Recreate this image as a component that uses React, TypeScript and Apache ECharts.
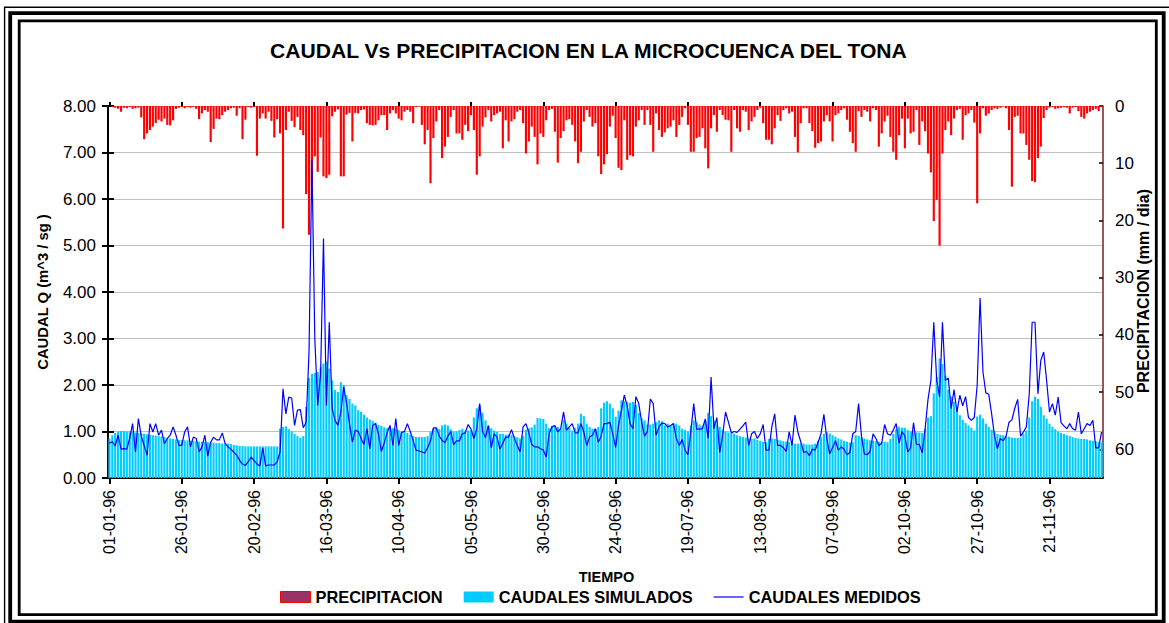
import React, { useEffect, useRef } from 'react';
import * as echarts from 'echarts';

// ---------- DATA ----------
const DAY_COUNT = 344; // 01-01-96 .. 09-12-96
const categories: string[] = [];
for (let i = 0; i < DAY_COUNT; i++) {
  const d = new Date(Date.UTC(1996, 0, 1 + i));
  const dd = String(d.getUTCDate()).padStart(2, '0');
  const mm = String(d.getUTCMonth() + 1).padStart(2, '0');
  categories.push(`${dd}-${mm}-96`);
}

const tickLabels = [
  '01-01-96', '26-01-96', '20-02-96', '16-03-96', '10-04-96', '05-05-96', '30-05-96',
  '24-06-96', '19-07-96', '13-08-96', '07-09-96', '02-10-96', '27-10-96', '21-11-96',
];

// mm / dia
const precipitacion = [
  0, 0.2, 0.3, 0.5, 1.0, 0.3, 0.4, 0.2, 0.5, 0.4,
  0.3, 2.0, 5.8, 4.8, 4.2, 3.6, 3.0, 2.4, 2.7, 2.2,
  3.3, 3.4, 2.5, 0.5, 0.3, 0.2, 0.4, 0.2, 0.3, 0.2,
  0.5, 2.3, 1.3, 0.7, 1.0, 6.3, 4.0, 2.2, 2.3, 1.6,
  1.0, 0.7, 0.4, 0.3, 1.7, 0.4, 5.8, 2.4, 0.2, 0.3,
  0.2, 8.7, 2.2, 1.3, 2.2, 1.0, 2.6, 5.5, 2.3, 4.8,
  21.4, 4.2, 1.0, 2.6, 3.7, 1.9, 4.2, 5.1, 15.4, 22.5,
  13.8, 8.8, 11.5, 5.5, 12.3, 12.6, 12.0, 1.8, 1.0, 0.6,
  12.3, 12.3, 1.5, 1.2, 6.2, 1.2, 1.3, 0.7, 0.6, 3.0,
  3.3, 3.4, 3.3, 2.5, 1.6, 1.6, 4.2, 1.3, 0.7, 1.3,
  2.2, 2.5, 1.0, 0.7, 1.0, 3.0, 0.2, 0.1, 3.3, 6.7,
  4.2, 13.5, 5.6, 2.7, 0.7, 9.1, 7.1, 5.4, 1.9, 0.7,
  4.8, 4.8, 5.9, 3.3, 4.4, 1.6, 4.2, 12.0, 8.8, 3.6,
  2.0, 0.7, 2.7, 1.6, 1.3, 1.0, 7.4, 2.5, 6.2, 2.7,
  2.3, 1.0, 0.7, 3.0, 8.3, 6.2, 3.6, 5.4, 10.2, 4.8,
  5.4, 2.5, 0.7, 0.5, 4.5, 9.9, 5.6, 4.4, 2.5, 2.3,
  3.3, 6.2, 10.0, 8.0, 2.7, 0.7, 1.9, 3.6, 3.0, 8.8,
  11.9, 10.2, 8.4, 3.6, 1.7, 5.6, 10.8, 11.2, 2.5, 9.4,
  8.6, 8.8, 3.6, 2.5, 0.7, 3.3, 0.7, 3.3, 8.0, 1.3,
  4.2, 5.4, 4.6, 3.9, 3.6, 2.5, 5.4, 3.3, 1.9, 0.4,
  3.3, 8.0, 8.0, 5.6, 5.4, 3.9, 7.4, 10.9, 3.9, 1.6,
  4.5, 0.7, 1.6, 2.4, 2.5, 8.0, 0.7, 3.9, 4.5, 0.7,
  1.0, 4.2, 2.7, 1.9, 0.7, 0.3, 3.0, 5.9, 5.9, 6.7,
  3.9, 1.6, 2.6, 0.7, 0.4, 1.3, 1.0, 5.4, 8.1, 3.0,
  0.4, 0.4, 3.0, 4.4, 7.3, 6.5, 6.2, 2.7, 1.6, 2.7,
  6.2, 1.6, 1.3, 0.7, 0.4, 2.4, 4.5, 6.5, 8.0, 0.9,
  1.9, 0.7, 1.0, 2.7, 0.4, 0.7, 7.1, 4.8, 2.7, 1.7,
  5.4, 8.0, 9.4, 5.1, 2.2, 7.4, 2.2, 4.8, 4.5, 0.7,
  6.8, 2.7, 4.4, 8.3, 11.6, 20.1, 16.4, 24.4, 8.3, 4.2,
  2.7, 5.1, 2.2, 0.7, 0.5, 5.9, 1.6, 1.3, 0.7, 2.9,
  17.0, 4.8, 0.4, 1.7, 1.3, 0.7, 0.4, 0.5, 0.3, 0.1,
  0.4, 4.2, 14.1, 1.9, 1.7, 4.8, 4.8, 6.8, 9.4, 13.1,
  13.3, 9.1, 7.1, 2.1, 0.7, 0.3, 0.2, 0.5, 0.4, 0.3,
  0.2, 0.3, 1.3, 0.3, 0.2, 0.9, 1.9, 2.2, 1.3, 1.0,
  0.7, 0.5, 0.9, 0.2,
];

// m^3 / sg
const caudalesSimulados = [
  0.85, 0.92, 0.97, 1.0, 1.01, 1.01, 1.0, 1.0, 0.99, 0.98,
  0.97, 0.96, 0.95, 0.94, 0.93, 0.92, 0.91, 0.9, 0.89, 0.88,
  0.86, 0.85, 0.84, 0.83, 0.82, 0.82, 0.81, 0.81, 0.8, 0.8,
  0.79, 0.78, 0.78, 0.77, 0.77, 0.76, 0.76, 0.75, 0.75, 0.74,
  0.74, 0.74, 0.73, 0.71, 0.7, 0.69, 0.69, 0.68, 0.68, 0.68,
  0.68, 0.68, 0.68, 0.68, 0.68, 0.68, 0.68, 0.68, 0.68, 1.06,
  1.1, 1.11, 1.05, 1.0, 0.95, 0.9, 0.86, 0.9, 1.53, 2.15,
  2.24, 2.26, 2.28, 2.38, 2.46, 2.5, 2.35, 2.1, 1.89, 1.85,
  2.06, 2.0, 1.78, 1.7, 1.6, 1.56, 1.46, 1.42, 1.36, 1.3,
  1.26, 1.23, 1.19, 1.14, 1.12, 1.09, 1.07, 1.08, 1.07, 1.05,
  1.03, 1.0, 1.0, 0.97, 0.93, 0.9, 0.88, 0.88, 0.88, 0.88,
  0.9, 1.0, 1.06, 1.08, 1.05, 1.13, 1.15, 1.13, 1.05, 1.0,
  1.0, 1.03, 1.06, 1.02, 1.02, 1.03, 1.3, 1.5, 1.56, 1.4,
  1.24, 1.12, 1.07, 1.02, 0.99, 0.95, 0.95, 0.93, 0.94, 0.92,
  0.9, 0.88, 0.85, 0.9, 1.04, 1.07, 1.09, 1.15, 1.29, 1.28,
  1.27, 1.17, 1.07, 1.12, 1.12, 1.1, 1.06, 1.24, 1.17, 1.08,
  1.02, 1.08, 1.17, 1.38, 1.33, 1.17, 1.1, 1.06, 1.06, 1.1,
  1.5, 1.62, 1.65, 1.6, 1.5, 1.32, 1.45, 1.67, 1.65, 1.63,
  1.62, 1.64, 1.57, 1.4, 1.28, 1.24, 1.15, 1.15, 1.17, 1.2,
  1.24, 1.22, 1.13, 1.17, 1.13, 1.17, 1.17, 1.13, 1.06, 1.03,
  1.0, 1.13, 1.24, 1.2, 1.15, 1.13, 1.24, 1.4, 1.33, 1.24,
  1.15, 1.1, 1.04, 1.0, 0.98, 0.97, 0.95, 0.92, 0.9, 0.88,
  0.87, 0.85, 0.84, 0.85, 0.82, 0.8, 0.78, 0.77, 0.84, 0.85,
  0.84, 0.82, 0.81, 0.79, 0.78, 0.77, 0.75, 0.74, 0.74, 0.74,
  0.74, 0.72, 0.72, 0.72, 0.74, 0.8, 0.88, 0.95, 0.99, 0.96,
  0.92, 0.89, 0.85, 0.83, 0.8, 0.78, 0.76, 0.77, 0.92, 0.91,
  0.88, 0.85, 0.83, 0.81, 0.8, 0.79, 0.78, 0.78, 0.78, 0.77,
  0.84, 0.95, 1.05, 1.1, 1.08, 1.08, 1.03, 1.0, 0.98, 0.98,
  0.98, 0.97, 1.06, 1.3, 1.33, 1.82, 2.17, 2.57, 2.45, 2.2,
  1.9, 1.75, 1.64, 1.5, 1.35, 1.25, 1.18, 1.13, 1.08, 1.02,
  1.32, 1.36, 1.28, 1.17, 1.1, 1.04, 1.0, 0.95, 0.93, 0.92,
  0.9, 0.89, 0.87, 0.86, 0.86, 0.87, 0.95, 1.02, 1.3, 1.65,
  1.75, 1.7, 1.53, 1.35, 1.27, 1.17, 1.1, 1.05, 1.0, 0.97,
  0.95, 0.92, 0.9, 0.88, 0.86, 0.85, 0.84, 0.84, 0.83, 0.81,
  0.8, 0.79, 0.78, 0.77,
];

// m^3 / sg
const caudalesMedidos = [
  0.75, 0.78, 0.69, 0.92, 0.62, 0.63, 0.62, 0.85, 1.17, 0.56,
  1.28, 0.9, 0.7, 0.49, 1.17, 0.99, 1.17, 0.92, 1.03, 0.74,
  0.85, 0.92, 1.1, 0.92, 0.7, 0.7, 0.99, 1.1, 0.67, 0.88,
  0.85, 0.56, 0.67, 0.92, 0.47, 0.77, 0.88, 0.82, 0.82, 0.97,
  0.74, 0.67, 0.62, 0.55, 0.49, 0.38, 0.3, 0.27, 0.35, 0.45,
  0.38, 0.3, 0.26, 0.65, 0.26, 0.28, 0.28, 0.28, 0.35, 0.56,
  1.92, 1.38, 1.74, 1.72, 1.13, 1.46, 1.47, 1.08, 1.2, 2.71,
  6.83, 3.0, 1.56, 2.24, 5.15, 1.56, 3.35, 1.49, 1.24, 1.13,
  1.42, 1.96, 1.6, 1.17, 0.77, 1.03, 1.0, 0.85, 0.72, 1.06,
  0.63, 1.13, 1.17, 0.95, 0.57, 0.75, 0.98, 1.13, 0.7, 1.28,
  0.7, 0.98, 1.0, 1.17, 1.0, 0.8, 0.6, 0.58, 0.56, 0.54,
  0.65, 0.8, 1.08, 1.08, 0.9, 0.81, 0.76, 0.9, 1.0, 0.72,
  0.8, 0.8, 0.95, 0.97, 1.15, 1.05, 0.85, 1.06, 1.6, 1.0,
  0.87, 1.13, 0.65, 0.95, 0.88, 0.62, 0.75, 0.88, 0.88, 1.04,
  0.85, 0.7, 0.56, 1.1, 1.17, 0.97, 0.72, 0.67, 0.67, 0.63,
  0.6, 0.45, 0.95, 1.1, 1.13, 0.99, 1.06, 1.42, 1.03, 1.1,
  1.17, 0.97, 0.97, 1.17, 0.99, 0.7, 0.88, 0.92, 1.06, 0.77,
  0.9, 1.17, 1.17, 1.2, 0.95, 0.66, 1.13, 1.45, 1.78, 1.55,
  1.17, 1.06, 1.75, 1.6, 1.2, 0.9, 1.0, 1.7, 1.6, 0.92,
  1.1, 1.18, 1.17, 1.1, 1.13, 1.17, 0.85, 0.7, 0.83, 0.6,
  0.5, 1.0, 1.6, 1.05, 1.05, 1.06, 1.27, 0.85, 2.17, 1.06,
  1.3, 0.55, 0.92, 1.42, 1.2, 0.97, 1.0, 0.98, 1.05, 1.12,
  1.2, 0.7, 0.95, 1.0, 0.85, 0.95, 1.15, 0.6, 0.6, 1.1,
  1.38, 0.7, 0.7, 0.65, 0.57, 1.0, 0.7, 1.35, 0.99, 0.78,
  0.55, 0.57, 0.48, 0.62, 0.6, 0.77, 0.95, 1.37, 0.85, 0.52,
  0.65, 0.8, 0.6, 0.67, 0.62, 0.5, 0.55, 0.95, 1.0, 1.6,
  0.9, 0.52, 0.5, 0.57, 0.95, 0.85, 0.7, 0.75, 1.15, 0.95,
  0.92, 1.03, 1.17, 0.75, 1.0, 0.9, 0.56, 0.65, 1.19, 0.72,
  0.72, 0.54, 1.06, 1.69, 2.1, 3.35, 2.1, 1.75, 3.35, 2.1,
  2.15, 1.49, 1.9, 1.42, 1.78, 1.55, 1.75, 1.3, 1.24, 1.3,
  2.0, 3.87, 2.28, 1.83, 1.8, 1.38, 0.9, 0.63, 0.85, 0.8,
  0.9, 1.2, 1.25, 1.5, 1.69, 0.9, 0.99, 1.1, 1.8, 3.35,
  3.35, 1.81, 2.53, 2.71, 2.1, 1.42, 1.6, 1.35, 1.74, 1.19,
  1.12, 1.06, 1.17, 1.06, 1.03, 1.42, 0.95, 1.06, 1.17, 1.13,
  1.24, 0.65, 0.65, 0.99,
];

// ---------- CHART ----------
const FONT = '"Liberation Sans", Arial, Helvetica, sans-serif';
const isTick = (_i: number, value: string) => tickLabels.includes(value);

export default function App() {
  const ref = useRef<HTMLDivElement>(null);

  useEffect(() => {
    if (!ref.current) return;
    const chart = echarts.init(ref.current, undefined, { renderer: 'svg' });

    const option: any = {
      animation: false,
      backgroundColor: '#ffffff',
      textStyle: { fontFamily: FONT, color: '#000' },
      title: {
        text: 'CAUDAL Vs PRECIPITACION EN LA MICROCUENCA DEL TONA',
        left: 265,
        top: 35,
        textStyle: { fontFamily: FONT, fontSize: 21.1, fontWeight: 'bold', color: '#000' },
      },
      grid: { left: 108, right: 66, top: 106, bottom: 145, containLabel: false },
      legend: {
        left: 275,
        top: 584,
        itemWidth: 30,
        itemHeight: 11,
        itemGap: 21,
        textStyle: { fontFamily: FONT, fontSize: 16.4, fontWeight: 'bold', color: '#000' },
        data: [
          {
            name: 'PRECIPITACION',
            icon: 'rect',
            itemStyle: { color: '#993366', borderColor: '#FF0000', borderWidth: 1 },
          },
          { name: 'CAUDALES SIMULADOS', icon: 'rect' },
          {
            name: 'CAUDALES MEDIDOS',
            icon: 'path://M0,0 L30,0 L30,1.2 L0,1.2 Z',
            itemStyle: { color: '#0000FF' },
          },
        ],
      },
      xAxis: [
        {
          type: 'category',
          data: categories,
          boundaryGap: true,
          position: 'bottom',
          axisLine: { show: true, lineStyle: { color: '#000', width: 2 } },
          axisTick: { show: true, interval: isTick, alignWithLabel: true, length: 6, lineStyle: { color: '#000', width: 2 } },
          axisLabel: {
            interval: isTick,
            rotate: 90,
            margin: 12,
            fontFamily: FONT,
            fontSize: 16,
            color: '#000',
          },
          splitLine: { show: false },
        },
        {
          type: 'category',
          data: categories,
          boundaryGap: true,
          position: 'bottom',
          axisLine: { show: false },
          axisTick: { show: true, inside: true, interval: isTick, alignWithLabel: true, length: 4, lineStyle: { color: '#000', width: 2 } },
          axisLabel: { show: false },
          splitLine: { show: false },
        },
      ],
      yAxis: [
        {
          type: 'value',
          position: 'left',
          min: 0,
          max: 8,
          interval: 1,
          name: 'CAUDAL Q (m^3 / sg )',
          nameLocation: 'middle',
          nameRotate: 90,
          nameGap: 58,
          nameTextStyle: { fontFamily: FONT, fontSize: 14.8, fontWeight: 'bold', color: '#000' },
          axisLine: { show: true, lineStyle: { color: '#000', width: 2 } },
          axisTick: { show: true, length: 6, lineStyle: { color: '#000', width: 2 } },
          axisLabel: {
            margin: 12,
            fontFamily: FONT,
            fontSize: 17,
            color: '#000',
            formatter: (v: number) => v.toFixed(2),
          },
          splitLine: { show: true, lineStyle: { color: '#C0C0C0', width: 1 } },
        },
        {
          type: 'value',
          position: 'right',
          inverse: true,
          min: 0,
          max: 65,
          interval: 10,
          axisLine: { show: true, lineStyle: { color: '#7A1F1F', width: 1.5 } },
          axisTick: { show: true, inside: true, length: 4, lineStyle: { color: '#000', width: 1.5 } },
          axisLabel: {
            margin: 12,
            fontFamily: FONT,
            fontSize: 17,
            color: '#000',
            showMaxLabel: false,
          },
          splitLine: { show: false },
        },
        {
          type: 'value',
          position: 'left',
          min: 0,
          max: 8,
          interval: 1,
          axisLine: { show: false },
          axisTick: { show: true, inside: true, length: 6, lineStyle: { color: '#000', width: 2 } },
          axisLabel: { show: false },
          splitLine: { show: false },
        },
      ],
      series: [
        {
          name: 'PRECIPITACION',
          type: 'bar',
          xAxisIndex: 0,
          yAxisIndex: 1,
          data: precipitacion,
          itemStyle: { color: '#FF0000' },
          barCategoryGap: '25%',
          barGap: '-100%',
          z: 2,
        },
        {
          name: 'CAUDALES SIMULADOS',
          type: 'bar',
          xAxisIndex: 0,
          yAxisIndex: 0,
          data: caudalesSimulados,
          itemStyle: { color: '#00CCFF' },
          barCategoryGap: '25%',
          barGap: '-100%',
          z: 2,
        },
        {
          name: 'CAUDALES MEDIDOS',
          type: 'line',
          xAxisIndex: 0,
          yAxisIndex: 0,
          data: caudalesMedidos,
          symbol: 'none',
          showSymbol: false,
          lineStyle: { color: '#0000FF', width: 1.2 },
          itemStyle: { color: '#0000FF' },
          z: 3,
        },
      ],
      graphic: [
        {
          type: 'rect',
          silent: true,
          shape: { x: 4.6, y: 7.3, width: 1200, height: 700 },
          style: { fill: 'none', stroke: '#000', lineWidth: 1.4 },
        },
        {
          type: 'rect',
          silent: true,
          shape: { x: 10.2, y: 13.2, width: 1153.5, height: 608.5 },
          style: { fill: 'none', stroke: '#000', lineWidth: 3.8 },
        },
        {
          type: 'rect',
          silent: true,
          shape: { x: 19.2, y: 20.8, width: 1137.1, height: 593.9 },
          style: { fill: 'none', stroke: '#000', lineWidth: 2.8 },
        },
        {
          type: 'text',
          silent: true,
          x: 606.5,
          y: 577,
          style: {
            text: 'TIEMPO',
            fontFamily: FONT,
            fontSize: 14.5,
            fontWeight: 'bold',
            fill: '#000',
            align: 'center',
            verticalAlign: 'middle',
          },
        },
        {
          type: 'text',
          silent: true,
          x: 1143,
          y: 291,
          rotation: Math.PI / 2,
          style: {
            text: 'PRECIPITACION (mm / dia)',
            fontFamily: FONT,
            fontSize: 16,
            fontWeight: 'bold',
            fill: '#000',
            align: 'center',
            verticalAlign: 'middle',
          },
        },
      ],
    };

    chart.setOption(option);
    return () => {
      chart.dispose();
    };
  }, []);

  return (
    <div
      ref={ref}
      style={{ position: 'fixed', left: 0, top: 0, width: 1169, height: 623, background: '#fff' }}
    />
  );
}
